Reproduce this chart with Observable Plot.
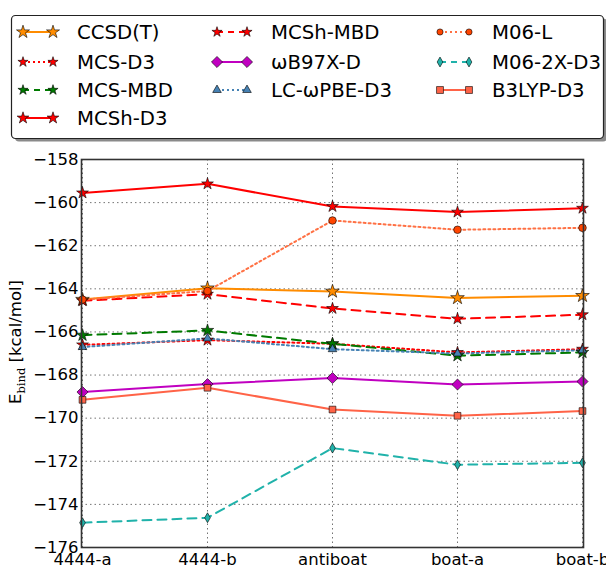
<!DOCTYPE html>
<html>
<head>
<meta charset="utf-8">
<script src="https://cdn.jsdelivr.net/npm/d3@7"></script>
<script src="https://cdn.jsdelivr.net/npm/@observablehq/plot@0.6"></script>
<style>
  html, body { margin: 0; padding: 0; background: #fff; overflow: hidden; width: 606px; height: 567px; }
  body { font-family: "DejaVu Sans", sans-serif; }
  #legend { display: block; }
  #chart svg { overflow: visible; }
</style>
</head>
<body>
<div id="legend"></div>
<div id="chart"></div>
<script>
// ---- data ----
const categories = ["4444-a", "4444-b", "antiboat", "boat-a", "boat-b"];
const yTicks = [-158, -160, -162, -164, -166, -168, -170, -172, -174, -176];

const ccsdT     = [-164.50, -163.97, -164.12, -164.42, -164.32];
const mcsD3     = [-166.60, -166.38, -166.55, -166.95, -166.80];
const mcsMBD    = [-166.15, -165.93, -166.55, -167.10, -166.95];
const mcshD3    = [-159.55, -159.13, -160.18, -160.44, -160.26];
const mcshMBD   = [-164.55, -164.25, -164.91, -165.39, -165.20];
const wb97xD    = [-168.79, -168.42, -168.14, -168.44, -168.30];
const lcwpbeD3  = [-166.70, -166.30, -166.80, -167.00, -166.85];
const m06L      = [-164.50, -164.10, -160.83, -161.26, -161.17];
const m062xD3   = [-174.85, -174.62, -171.39, -172.16, -172.07];
const b3lypD3   = [-169.15, -168.59, -169.60, -169.89, -169.67];

const seriesNames = ["CCSD(T)", "MCS-D3", "MCS-MBD", "MCSh-D3", "MCSh-MBD",
                     "ωB97X-D", "LC-ωPBE-D3", "M06-L", "M06-2X-D3", "B3LYP-D3"];
const seriesValues = [ccsdT, mcsD3, mcsMBD, mcshD3, mcshMBD, wb97xD, lcwpbeD3, m06L, m062xD3, b3lypD3];

// ---- styles ----
const styles = [
  {line: "#ff8c00", fill: "#ff8c00", dash: null,   symbol: "star",     r: 4.3, lr: 4.1},
  {line: "#ff0000", fill: "#ff0000", dash: "2,3",  symbol: "star",     r: 3.7, lr: 3.2},
  {line: "#007a00", fill: "#007a00", dash: "9,6",  symbol: "star",     r: 3.9, lr: 3.2},
  {line: "#ff0000", fill: "#ff0000", dash: null,   symbol: "star",     r: 3.7, lr: 3.7},
  {line: "#ff0000", fill: "#ff0000", dash: "9,6",  symbol: "star",     r: 3.7, lr: 3.2},
  {line: "#c000c0", fill: "#c000c0", dash: null,   symbol: "diamond2", r: 5.0, lr: 5.0},
  {line: "#4682b4", fill: "#4682b4", dash: "2,3",  symbol: "triangle", r: 3.2, lr: 3.2},
  {line: "#ff7043", fill: "#ff4500", dash: "2,3",  symbol: "circle",   r: 3.8, lr: 3.1},
  {line: "#20b2aa", fill: "#20b2aa", dash: "9,6",  symbol: "diamond",  r: 3.0, lr: 3.0},
  {line: "#ff6347", fill: "#ff6347", dash: null,   symbol: "square",   r: 3.8, lr: 3.9}
];

const rows = seriesNames.flatMap((name, i) =>
  categories.map((c, j) => ({series: name, idx: i, cat: c, value: seriesValues[i][j]})));

// ---- chart ----
const marks = [
  Plot.gridX(categories, {stroke: "#000", strokeOpacity: 0.55, strokeDasharray: "1.5,3", strokeWidth: 1}),
  Plot.gridY(yTicks, {stroke: "#000", strokeOpacity: 0.55, strokeDasharray: "1.5,3", strokeWidth: 1}),
  Plot.axisX({tickSize: 0, tickPadding: 6, fontSize: 16.5, label: null}),
  Plot.axisY({ticks: yTicks, tickSize: 0, tickPadding: 3, fontSize: 16.5, label: null,
              tickFormat: d => d3.format("d")(d)})
];
seriesNames.forEach((name, i) => {
  const s = styles[i];
  const data = rows.filter(d => d.idx === i);
  marks.push(Plot.line(data, {x: "cat", y: "value", stroke: s.line, strokeWidth: 2,
    strokeDasharray: s.dash || undefined}));
});
seriesNames.forEach((name, i) => {
  const s = styles[i];
  const data = rows.filter(d => d.idx === i);
  marks.push(Plot.dot(data, {x: "cat", y: "value", symbol: () => s.symbol, r: s.r,
    fill: s.fill, stroke: "#000", strokeWidth: 0.6}));
});
marks.push(Plot.frame({stroke: "#333", strokeWidth: 1.6}));

const chart = Plot.plot({
  width: 606,
  height: 427,
  marginLeft: 81,
  marginRight: 23,
  marginTop: 9,
  marginBottom: 30,
  style: {fontFamily: "DejaVu Sans, sans-serif", color: "#000", background: "#fff", overflow: "visible"},
  x: {type: "point", domain: categories, padding: 0},
  y: {domain: [-176, -158]},
  symbol: {type: "identity"},
  marks
});
document.getElementById("chart").appendChild(chart);

// y-axis label with subscript
const svgSel = d3.select(chart);
const lab = svgSel.append("text")
  .attr("transform", "translate(21,192) rotate(-90)")
  .attr("text-anchor", "middle")
  .attr("font-family", "DejaVu Sans, sans-serif")
  .attr("font-size", 16.5)
  .attr("fill", "#000");
lab.append("tspan").text("E");
lab.append("tspan").attr("font-family", "DejaVu Serif, serif").attr("font-size", 11.5)
  .attr("dy", 4).text("bind");
lab.append("tspan").attr("dy", -4).text(" [kcal/mol]");

// ---- legend ----
const leg = d3.select("#legend").append("svg")
  .attr("width", 606).attr("height", 150)
  .style("display", "block")
  .attr("font-family", "DejaVu Sans, sans-serif");
leg.append("rect").attr("x", 15).attr("y", 18.5).attr("width", 592).attr("height", 123)
  .attr("rx", 4).attr("fill", "#8a8a8a");
leg.append("rect").attr("x", 11.5).attr("y", 15.5).attr("width", 592).attr("height", 123)
  .attr("rx", 4).attr("fill", "#fff").attr("stroke", "#222").attr("stroke-width", 1.2);

const colX = [{x1: 23, x2: 53, tx: 77}, {x1: 217, x2: 247, tx: 271}, {x1: 440, x2: 469, tx: 492}];
const rowY = [32, 62, 90, 118];
const layout = [[0,0],[0,1],[0,2],[0,3],[1,0],[1,1],[1,2],[2,0],[2,1],[2,2]];
const symMap = {star: d3.symbolStar, diamond2: d3.symbolDiamond2, triangle: d3.symbolTriangle,
                circle: d3.symbolCircle, diamond: d3.symbolDiamond, square: d3.symbolSquare};
seriesNames.forEach((name, i) => {
  const s = styles[i];
  const [c, r] = layout[i];
  const {x1, x2, tx} = colX[c];
  const y = rowY[r];
  leg.append("line").attr("x1", x1).attr("x2", x2).attr("y1", y).attr("y2", y)
    .attr("stroke", s.line).attr("stroke-width", 2)
    .attr("stroke-dasharray", s.dash ? (s.dash === "9,6" ? "6,5" : s.dash) : null);
  const path = d3.symbol(symMap[s.symbol], Math.PI * s.lr * s.lr)();
  [x1, x2].forEach(x => {
    leg.append("path").attr("d", path).attr("transform", `translate(${x},${y})`)
      .attr("fill", s.fill).attr("stroke", "#000").attr("stroke-width", 0.6);
  });
  leg.append("text").attr("x", tx).attr("y", y).attr("dy", "0.36em")
    .attr("font-size", 19.7).attr("fill", "#000").text(name);
});
</script>
</body>
</html>
